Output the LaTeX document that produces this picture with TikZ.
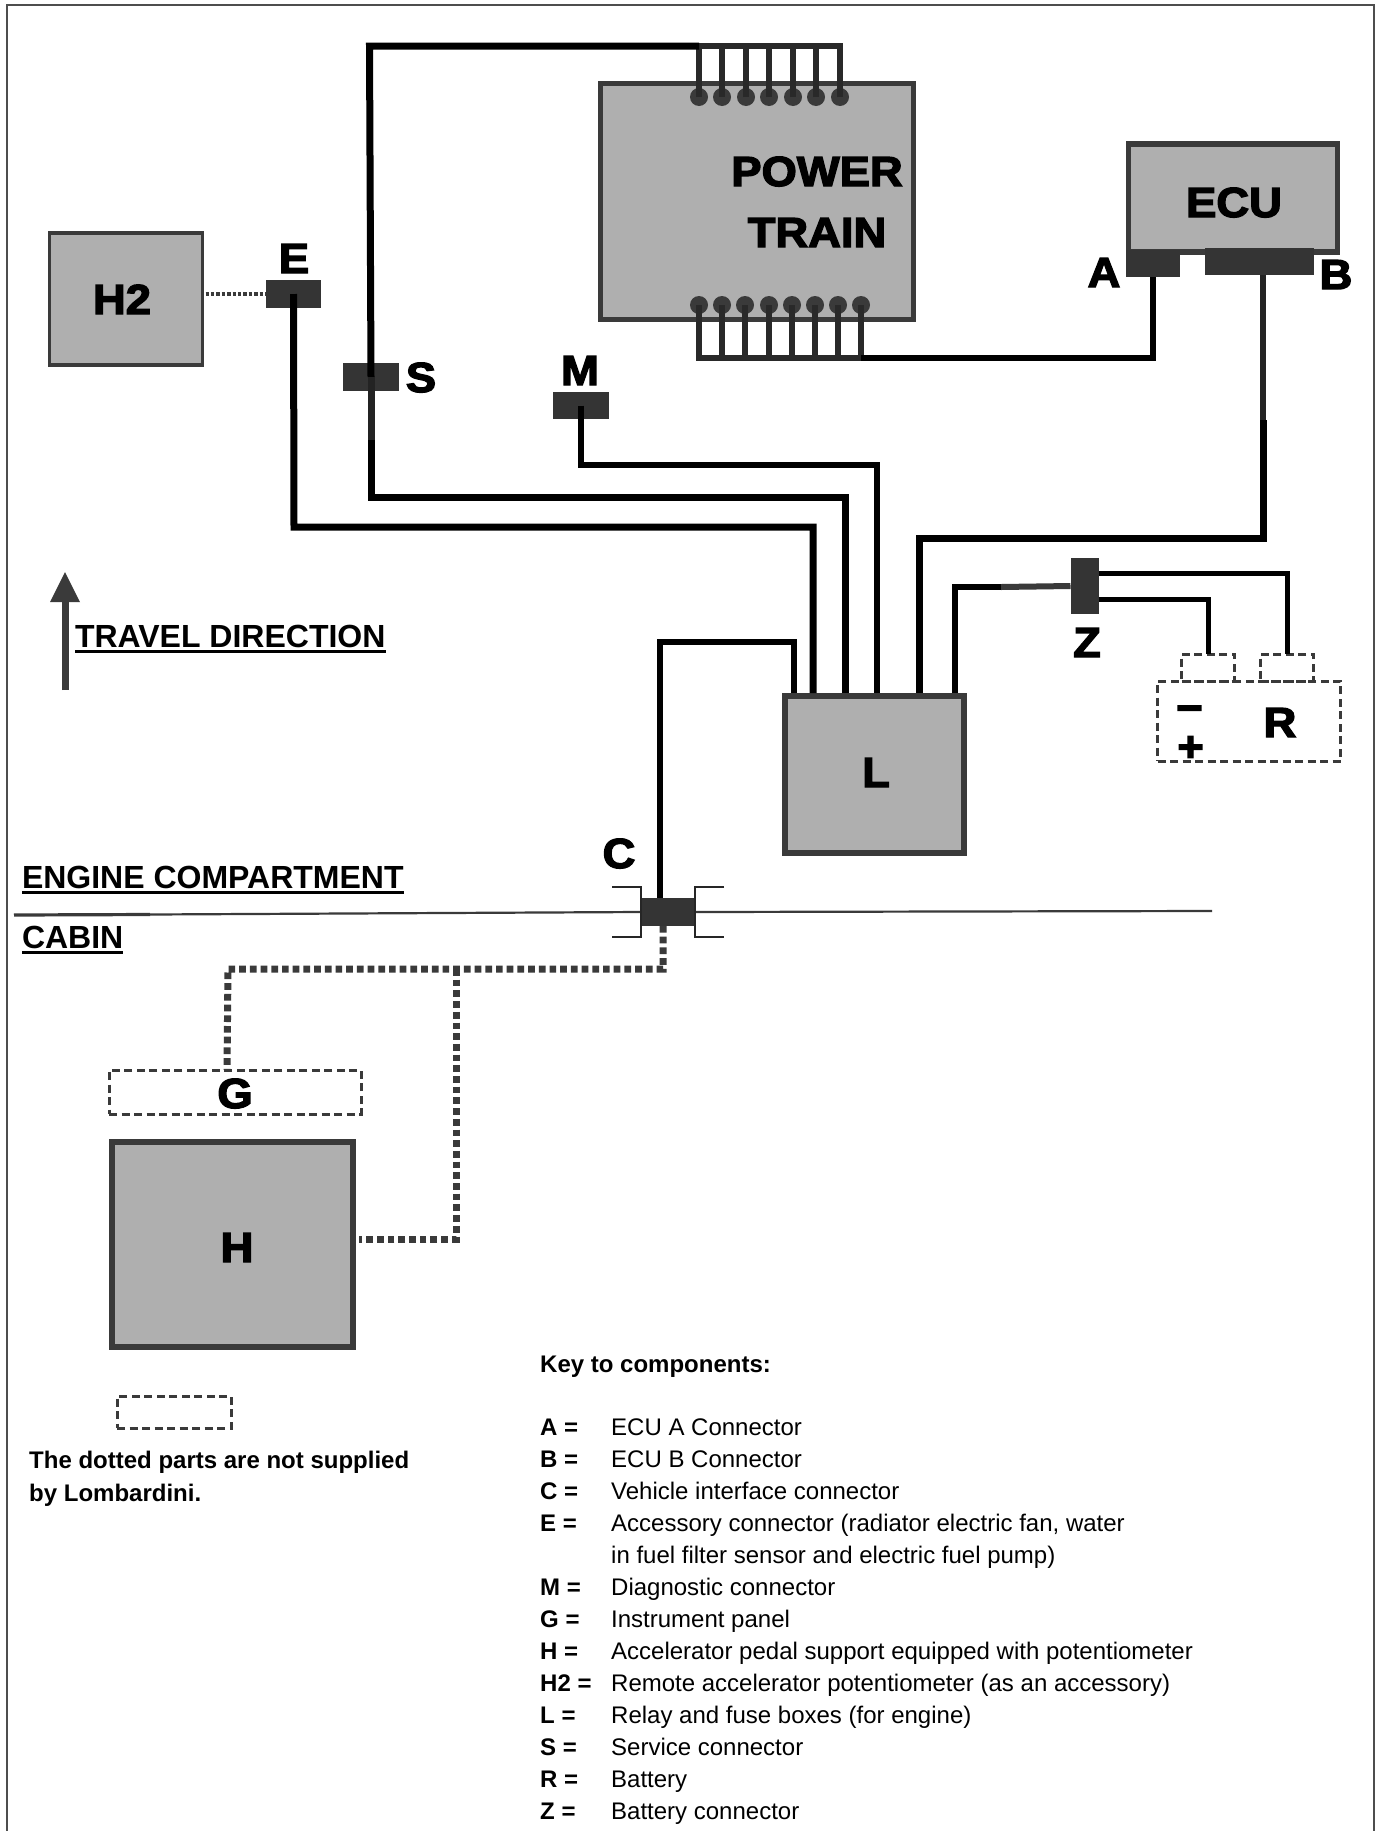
\documentclass[tikz,border=0pt]{standalone}
\usepackage{fontspec}
\setmainfont{Liberation Sans}
\newfontfamily\blk[FakeBold=3.2,FakeStretch=1.08]{Liberation Sans Bold}
\usetikzlibrary{calc}
\definecolor{boxgray}{HTML}{AFAFAF}
\definecolor{edgegray}{HTML}{3A3A3A}
\tikzset{
  unitbox/.style={draw=edgegray,fill=boxgray,line width=5.5pt,inner sep=0pt,outer sep=0pt,minimum width=#1},
  conn/.style={draw=none,fill=edgegray!90!black,inner sep=0pt,outer sep=0pt,minimum width=#1},
  ghost/.style={draw=edgegray,line width=3pt,dash pattern=on 8pt off 4.5pt,inner sep=0pt,outer sep=0pt,minimum width=#1},
  wire/.style={draw=black,line width=7pt,line join=miter},
  thinwire/.style={draw=black,line width=5pt,line join=miter},
  busw/.style={draw=edgegray!70!black,line width=5.5pt,line join=miter},
  dotwire/.style={draw=edgegray,line width=7pt,dash pattern=on 6.7pt off 4pt},
  pin/.style={circle,fill=edgegray,inner sep=0pt,minimum size=18pt},
  tag/.style={font=\blk\fontsize{42}{42}\selectfont,inner sep=0pt,outer sep=0pt,anchor=base},
  head/.style={font=\bfseries\fontsize{32}{32}\selectfont,inner sep=0pt,outer sep=0pt,anchor=base west},
  headline/.style={draw=black,line width=3pt},
  keyk/.style={font=\bfseries\fontsize{24}{24}\selectfont,inner sep=0pt,anchor=base west},
  keyv/.style={font=\fontsize{24}{24}\selectfont,inner sep=0pt,anchor=base west},
}
\begin{document}
\begin{tikzpicture}[x=1pt,y=-1pt]
\useasboundingbox (0,0) rectangle (1378,1831);
\fill[white] (0,0) rectangle (1378,1831);
\draw[edgegray!90,line width=2pt] (7,1835) -- (7,5) -- (1374,5) -- (1374,1835);

% units
\node[unitbox=313pt,minimum height=236pt] (PT) at (757,201.5) {};
\node[unitbox=209pt,minimum height=108pt] (ECU) at (1233,198) {};
\node[unitbox=153pt,minimum height=132pt,line width=3.5pt] (H2) at (126,299) {};
\node[unitbox=179pt,minimum height=157pt] (L) at (874.5,774.5) {};
\node[unitbox=241pt,minimum height=205pt] (H) at (232.5,1244.5) {};

% ghost parts
\node[ghost=252pt,minimum height=44pt] (G) at (235,1092) {};
\node[ghost=114pt,minimum height=32pt] (legendbox) at (174,1412) {};
\node[ghost=183pt,minimum height=80pt] (R) at (1249,721) {};
\node[ghost=53pt,minimum height=27pt] (Rminus) at (1208,667.5) {};
\node[ghost=53pt,minimum height=27pt] (Rplus) at (1287,667.5) {};

% connectors
\node[conn=54pt,minimum height=27pt] (Ac) at (1153,263.5) {};
\node[conn=109pt,minimum height=27pt] (Bc) at (1259.5,261.5) {};
\node[conn=55pt,minimum height=28pt] (Ec) at (293.5,294) {};
\node[conn=56pt,minimum height=28pt] (Sc) at (371,377) {};
\node[conn=56pt,minimum height=27pt] (Mc) at (581,405.5) {};
\node[conn=28pt,minimum height=56pt] (Zc) at (1084.5,586) {};
\node[conn=56pt,minimum height=28pt] (Cc) at (668,912) {};

% pins
\foreach \n/\x in {1/699,2/722,3/746,4/769,5/793,6/816,7/840}{
  \node[pin] (t\n) at (\x,97) {};
  \coordinate (tb\n) at (\x,46);
  \draw[busw] (t\n.center) -- (tb\n);
}
\draw[busw,line cap=rect] (tb1) -- (tb7);
\foreach \n/\x in {1/699,2/722,3/745,4/769,5/792,6/815,7/838,8/861}{
  \node[pin] (b\n) at (\x,305) {};
  \coordinate (bb\n) at (\x,358);
  \draw[busw] (b\n.center) -- (bb\n);
}
\draw[busw,line cap=rect] (bb1) -- (bb8);

% wires
\coordinate (Lw1) at (794,693);
\coordinate (Lw2) at (813,693);
\coordinate (Lw3) at (845,693);
\coordinate (Lw4) at (877,693);
\coordinate (Lw5) at (919,693);
\coordinate (Lw6) at (955,693);
\draw[wire] (tb1) -- (369.5,46) -- (Sc.center);
\draw[wire,line width=6pt] (bb8) -- (1153,358) -- (Ac.south);
\draw[wire,line width=6.5pt,draw=edgegray!60!black] (1263,0 |- Bc.south) -- (1263,420);
\draw[wire] (1263,420) -- (1263,538) -- (919,538) -- (Lw5);
\draw[wire] (Ec.center) -- (294,527) -- (813,527) -- (Lw2);
\draw[wire,draw=edgegray!60!black] (Sc.center) -- (371,440);
\draw[wire] (371,440) -- (371,497) -- (845,497) -- (Lw3);
\draw[wire,line width=6pt] (Mc.center) -- (581,465) -- (877,465) -- (Lw4);
\draw[wire,line width=6.5pt] (Lw1) -- (794,642) -- (660,642) -- (660,745);
\draw[wire,line width=5.5pt] (660,745) -- (660,0 |- Cc.north);
\draw[wire,line width=6.5pt] (Lw6) -- (955,587) -- (1001,587);
\draw[wire,line width=6pt,draw=edgegray] (1001,587) -- (Zc.west);
\draw[thinwire] (Zc.east |- 0,573) -- (1287,573) -- (Rplus.north);
\draw[thinwire] (Zc.east |- 0,599) -- (1208,599) -- (Rminus.north);

% dotted wires
\draw[dotwire,line width=4pt,dash pattern=on 3.4pt off 2pt] ($(H2.east |- Ec.center)+(3,0)$) -- (Ec.west);
\draw[dotwire] (663,0 |- Cc.south) -- (663,969) -- (228,969) -- (227,0 |- G.north);
\draw[dotwire] (456,969) -- (456,1239) -- ($(H.east |- 0,1239)+(6,0)$);

% firewall
\coordinate (fwL) at (14,915);
\coordinate (fwM) at (150,914.5);
\coordinate (fwR) at (1212,911);
\draw[edgegray,line width=3.2pt] (fwL) -- (fwM);
\draw[edgegray,line width=2.2pt] (fwM) -- (Cc.west);
\draw[edgegray,line width=2.2pt] (Cc.east) -- (fwR);
\draw[black!85,line width=2.6pt] (612,887) -- (641,887) -- (641,937) -- (612,937);
\draw[black!85,line width=2.6pt] (724,887) -- (695,887) -- (695,937) -- (724,937);

% travel arrow
\coordinate (arrowtail) at (65.5,690);
\coordinate (arrowbase) at (65.5,602);
\draw[edgegray,line width=7pt] (arrowtail) -- (arrowbase);
\fill[edgegray] (65,572) -- (80,602) -- (50,602) -- cycle;

% component tags
\node[tag] (lblPower) at (817,186) {POWER};
\node[tag] (lblTrain) at (817,247) {TRAIN};
\node[tag] (lblEcu) at (1234,217) {ECU};
\node[tag] (lblA) at (1104,287) {A};
\node[tag] (lblB) at (1336,289) {B};
\node[tag] (lblH2) at (122,314) {H2};
\node[tag] (lblE) at (294,273) {E};
\node[tag] (lblS) at (421,392) {S};
\node[tag] (lblM) at (580,385) {M};
\node[tag] (lblL) at (876,787) {L};
\node[tag] (lblZ) at (1087,657) {Z};
\node[tag] (lblR) at (1280,737) {R};
\node[tag] (lblC) at (619,868) {C};
\node[tag] (lblG) at (235,1108) {G};
\node[tag] (lblH) at (237,1262) {H};
\node[tag] (lblMinus) at (1189.5,722) {−};
\node[tag] (lblPlus) at (1190.5,761) {+};

% headings
\node[head] (hTravel) at (75,647) {TRAVEL DIRECTION};
\node[head] (hEngine) at (22,888) {ENGINE COMPARTMENT};
\node[head] (hCabin) at (22,948) {CABIN};
\foreach \h in {hTravel,hEngine,hCabin}{
  \draw[headline] ($(\h.base west)+(0,4.5)$) -- ($(\h.base east)+(0,4.5)$);
}

% notes
\node[keyk] (note1) at (29,1468) {The dotted parts are not supplied};
\node[keyk] (note2) at (29,1501) {by Lombardini.};
\node[keyk] (keytitle) at (540,1372) {Key to components:};

\foreach \i/\k/\v [count=\c] in {
 0/A =/ECU A Connector,
 1/B =/ECU B Connector,
 2/C =/Vehicle interface connector,
 3/E =/Accessory connector (radiator electric fan{,} water,
 4//in fuel filter sensor and electric fuel pump),
 5/M =/Diagnostic connector,
 6/G =/Instrument panel,
 7/H =/Accelerator pedal support equipped with potentiometer,
 8/H2 =/Remote accelerator potentiometer (as an accessory),
 9/L =/Relay and fuse boxes (for engine),
 10/S =/Service connector,
 11/R =/Battery,
 12/Z =/Battery connector}{
  \node[keyk] (kk\c) at (540,1435+32*\i) {\k};
  \node[keyv] (kv\c) at (611,1435+32*\i) {\v};
}
\end{tikzpicture}
\end{document}
